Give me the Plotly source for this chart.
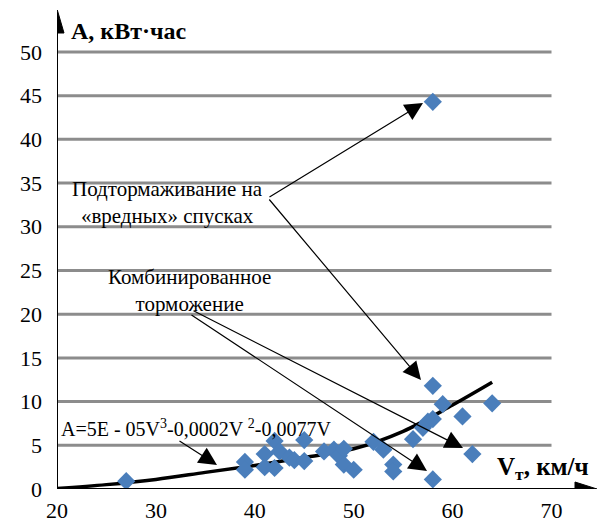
import plotly.graph_objects as go

# ---- data ----
speed = [27, 39, 39, 41, 41, 42, 42, 42.5, 43.5, 44, 45, 45, 47, 48, 48.5, 49, 49, 50,
         52, 53, 54, 54, 56, 57, 57.5, 58, 58, 58, 59, 61, 62, 64, 58]
energy = [0.9, 3.1, 2.2, 4.0, 2.5, 5.5, 2.4, 4.3, 3.6, 3.3, 5.6, 3.2, 4.3, 4.5, 3.8, 4.6, 2.8, 2.2,
          5.4, 4.5, 2.8, 2.0, 5.7, 7.0, 7.7, 8.0, 11.8, 1.1, 9.7, 8.3, 4.0, 9.8, 44.3]
trend_v = [20, 25, 30, 35, 40, 45, 50, 55, 60, 64]
trend_a = [0.05, 0.5, 1.1, 1.9, 2.7, 3.6, 4.6, 6.6, 9.6, 12.2]
x_ticks = [20, 30, 40, 50, 60, 70]
y_ticks = [0, 5, 10, 15, 20, 25, 30, 35, 40, 45, 50]

# ---- layout constants ----
W, H = 605, 526
ML, MR, MT, MB = 57, 8, 10, 37
XR = [20, 74.6]
YR = [0, 54.8]
PW, PH = W - ML - MR, H - MT - MB
FONT = "Times New Roman, Liberation Serif, serif"
GRID = "#8c8c8c"
BLUE = "#4a7ebb"


def px2x(px):
    return XR[0] + (px - ML) / PW * (XR[1] - XR[0])


def py2y(py):
    return YR[0] + (H - MB - py) / PH * (YR[1] - YR[0])


fig = go.Figure()

fig.add_trace(go.Scatter(x=trend_v, y=trend_a, mode="lines",
                         line=dict(color="black", width=3.5, shape="spline"),
                         hoverinfo="skip", showlegend=False))
fig.add_trace(go.Scatter(x=speed, y=energy, mode="markers",
                         marker=dict(symbol="diamond", size=14, color=BLUE,
                                     line=dict(width=0)),
                         showlegend=False))

shapes = []
for v in y_ticks[1:]:
    shapes.append(dict(type="line", xref="x", yref="y", x0=px2x(48), x1=70, y0=v, y1=v,
                       line=dict(color=GRID, width=3), layer="below"))
shapes.append(dict(type="line", xref="x", yref="y", x0=px2x(48), x1=px2x(580), y0=0, y1=0,
                   line=dict(color="black", width=2)))
shapes.append(dict(type="line", xref="x", yref="y", x0=20, x1=20, y0=py2y(497), y1=py2y(28),
                   line=dict(color="black", width=2)))
shapes.append(dict(type="path", xref="x", yref="y",
                   path=f"M {px2x(597)},{py2y(489)} L {px2x(575)},{py2y(482)} L {px2x(575)},{py2y(496)} Z",
                   fillcolor="black", line=dict(color="black", width=1)))
shapes.append(dict(type="path", xref="x", yref="y",
                   path=f"M {px2x(57)},{py2y(9)} L {px2x(50)},{py2y(33)} L {px2x(64)},{py2y(33)} Z",
                   fillcolor="black", line=dict(color="black", width=1)))
for t in x_ticks[1:]:
    shapes.append(dict(type="line", xref="x", yref="y", x0=t, x1=t, y0=0, y1=py2y(496),
                       line=dict(color=GRID, width=2), layer="below"))

annotations = []
annotations.append(dict(x=px2x(69), y=py2y(31), xref="x", yref="y", xanchor="left", yanchor="middle",
                        text="<b>A, кВт·час</b>", showarrow=False,
                        font=dict(family=FONT, size=24, color="black")))
annotations.append(dict(x=px2x(591), y=py2y(468), xref="x", yref="y", xanchor="right", yanchor="middle",
                        text="<b>V<sub>т</sub>, км/ч</b>", showarrow=False,
                        font=dict(family=FONT, size=25, color="black")))
annotations.append(dict(x=px2x(167), y=py2y(202), xref="x", yref="y", xanchor="center", yanchor="middle",
                        text="Подтормаживание на<br>«вредных» спусках", showarrow=False, align="center",
                        font=dict(family=FONT, size=21, color="black")))
annotations.append(dict(x=px2x(189), y=py2y(290), xref="x", yref="y", xanchor="center", yanchor="middle",
                        text="Комбинированное<br>торможение", showarrow=False, align="center",
                        font=dict(family=FONT, size=21, color="black")))
annotations.append(dict(x=px2x(59), y=py2y(428), xref="x", yref="y", xanchor="left", yanchor="middle",
                        text="A=5E - 05V<sup>3</sup>-0,0002V <sup>2</sup>-0,0077V", showarrow=False,
                        font=dict(family=FONT, size=20, color="black")))

arrows = [
    ((423, 103), (268, 198)),
    ((421, 380), (268, 198)),
    ((463, 448), (192, 310)),
    ((427, 471), (190, 314)),
    ((217, 465), (178, 440)),
]
for (tx, ty), (sx, sy) in arrows:
    annotations.append(dict(x=px2x(tx), y=py2y(ty), ax=px2x(sx), ay=py2y(sy),
                            xref="x", yref="y", axref="x", ayref="y",
                            showarrow=True, arrowhead=2, arrowsize=3, arrowwidth=1.2,
                            arrowcolor="black", text=""))

fig.update_layout(
    width=W, height=H,
    margin=dict(l=ML, r=MR, t=MT, b=MB, pad=0, autoexpand=False),
    paper_bgcolor="white", plot_bgcolor="white",
    font=dict(family=FONT),
    shapes=shapes, annotations=annotations,
    xaxis=dict(range=XR, tickvals=x_ticks, ticktext=[str(t) for t in x_ticks], automargin=False,
               showgrid=False, zeroline=False, showline=False, ticks="", ticklabelstandoff=6,
               tickfont=dict(family=FONT, size=22, color="black")),
    yaxis=dict(range=YR, tickvals=y_ticks, ticktext=[str(t) for t in y_ticks], automargin=False,
               showgrid=False, zeroline=False, showline=False, ticks="", ticklabelstandoff=14,
               tickfont=dict(family=FONT, size=22, color="black")),
)

fig.write_html("out.html")
